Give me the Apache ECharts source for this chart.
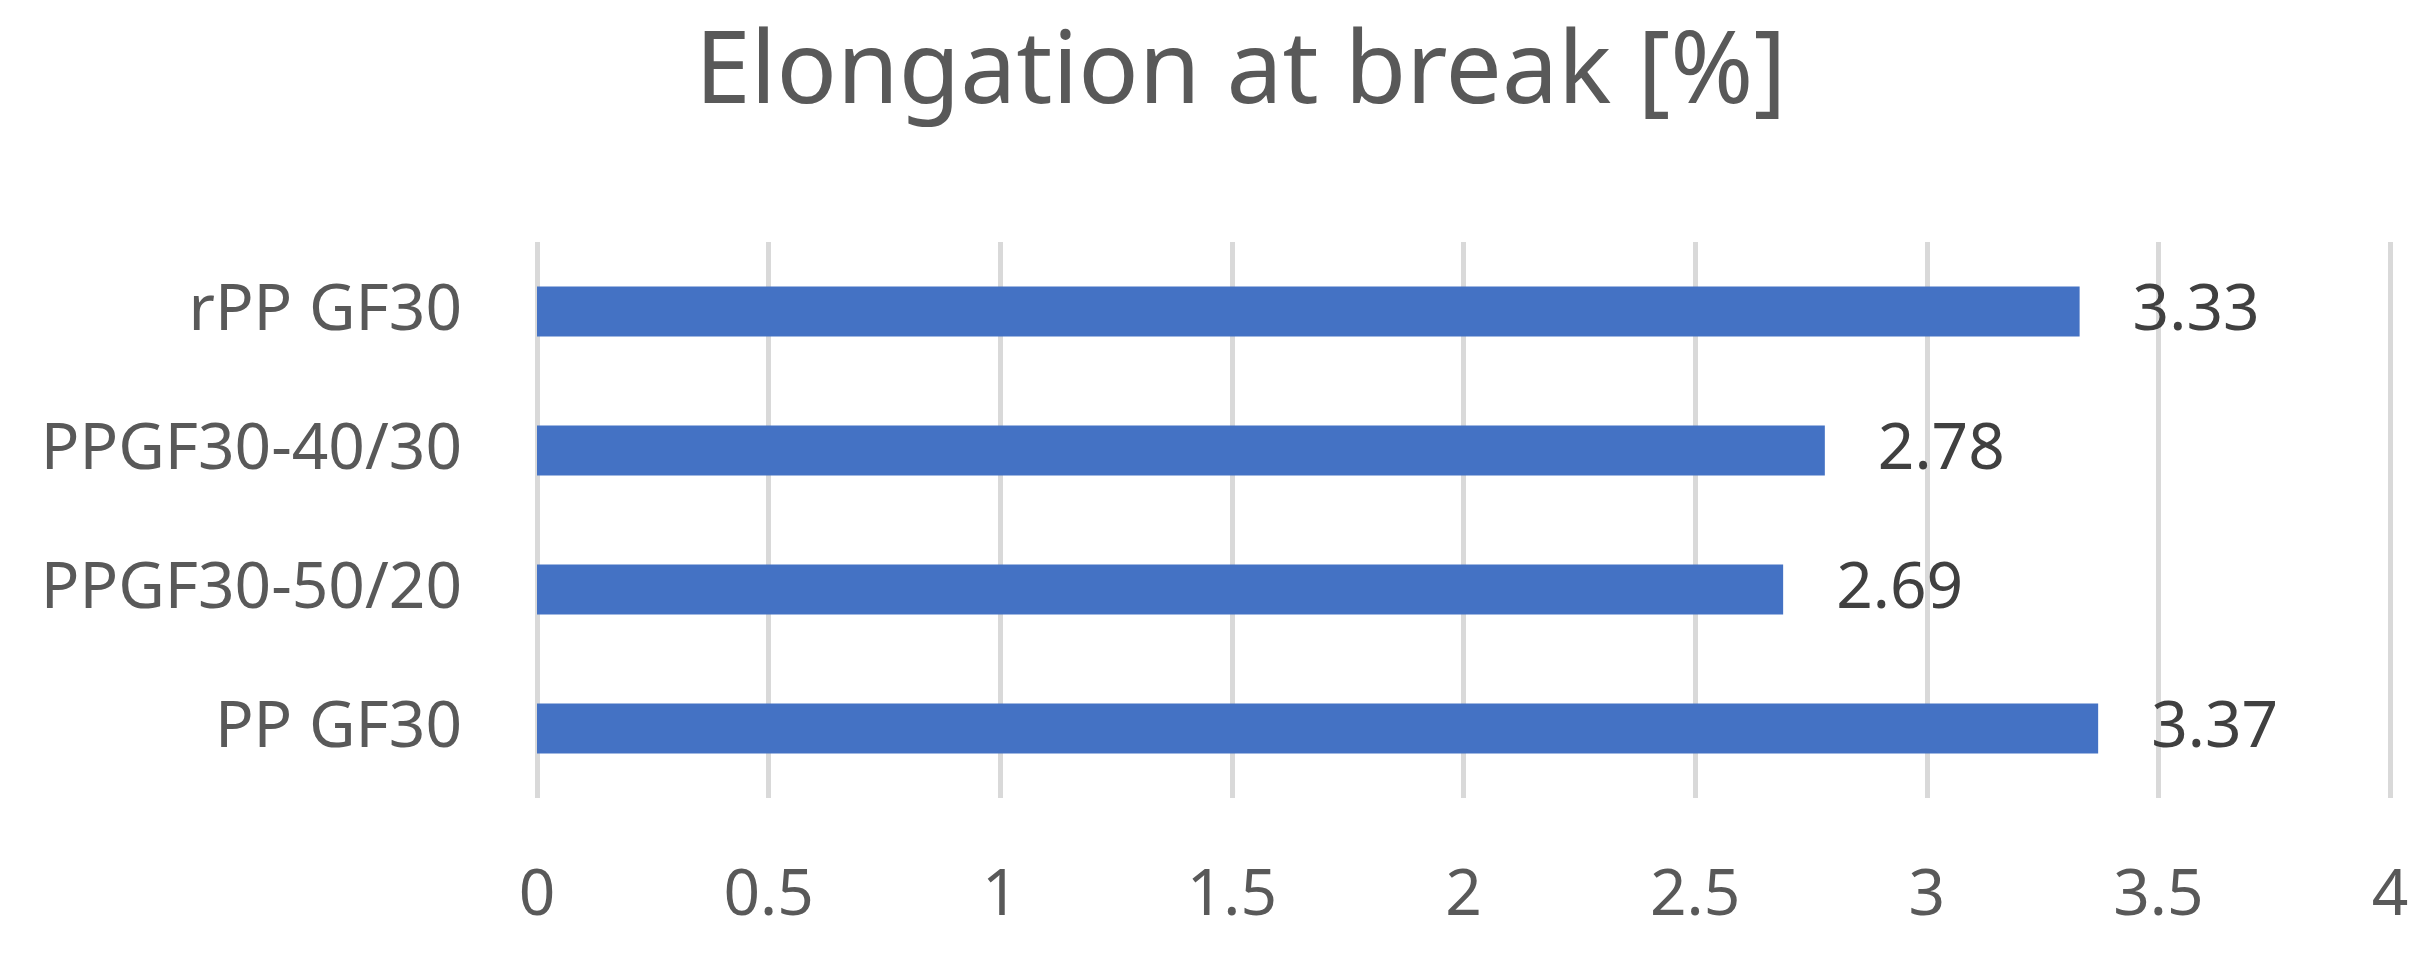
<!DOCTYPE html>
<html>
<head>
<meta charset="utf-8">
<script src="https://cdn.jsdelivr.net/npm/echarts@6/dist/echarts.min.js"></script>
<style>
html,body{margin:0;padding:0;background:#fff;}
#chart{width:2435px;height:956px;}
</style>
</head>
<body>
<div id="chart"></div>
<script>
const titleText = 'Elongation at break [%]';
const categories = ['PP GF30', 'PPGF30-50/20', 'PPGF30-40/30', 'rPP GF30'];
const values = [3.37, 2.69, 2.78, 3.33];
const xMin = 0, xMax = 4, xStep = 0.5;

const chart = echarts.init(document.getElementById('chart'));
const font = 'Noto Sans';
chart.setOption({
  backgroundColor: '#ffffff',
  animation: false,
  title: {
    text: titleText,
    left: 690,
    top: 20,
    textStyle: { fontFamily: font, fontSize: 100, fontWeight: 'normal', color: '#595959' }
  },
  grid: { left: 537, right: 45, top: 242, bottom: 158, containLabel: false },
  xAxis: {
    type: 'value',
    min: xMin, max: xMax, interval: xStep,
    axisLine: { show: false },
    axisTick: { show: false },
    splitLine: { show: true, lineStyle: { color: '#d9d9d9', width: 5 } },
    axisLabel: { fontFamily: font, fontSize: 64, color: '#595959', margin: 67 }
  },
  yAxis: {
    type: 'category',
    data: categories,
    axisLine: { show: false },
    axisTick: { show: false },
    axisLabel: { fontFamily: font, fontSize: 64, color: '#595959', margin: 75 }
  },
  series: [{
    type: 'bar',
    data: values,
    barWidth: 50,
    itemStyle: { color: '#4472c4' },
    label: {
      show: true,
      position: 'right',
      distance: 53,
      fontFamily: font,
      fontSize: 64,
      color: '#404040',
      formatter: p => p.value.toFixed(2)
    }
  }]
});
</script>
</body>
</html>
